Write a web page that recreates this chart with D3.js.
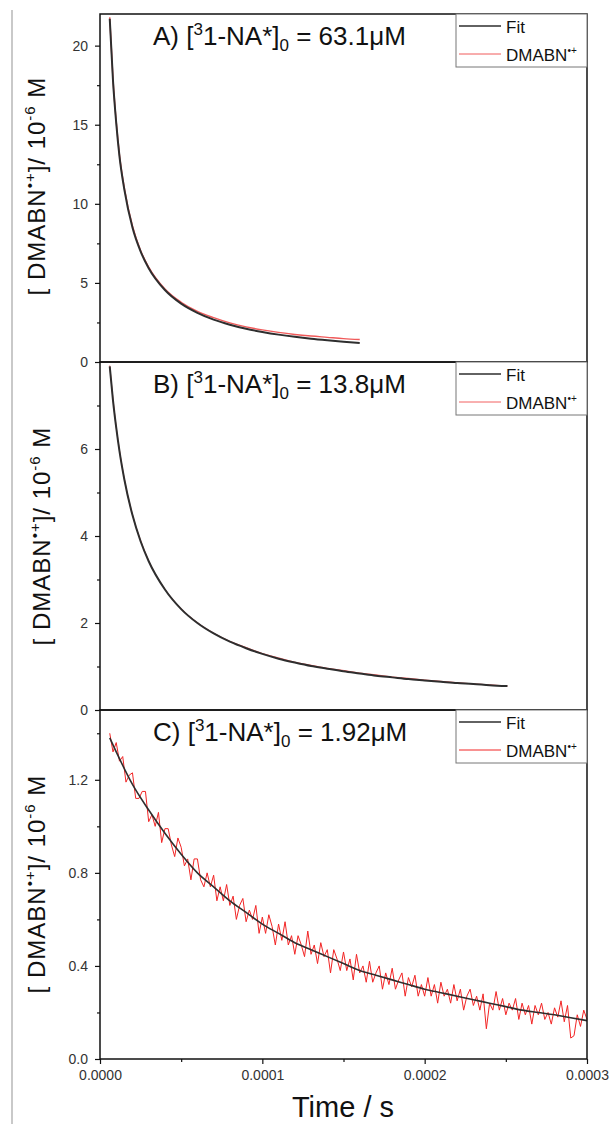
<!DOCTYPE html>
<html>
<head>
<meta charset="utf-8">
<script src="https://cdnjs.cloudflare.com/ajax/libs/d3/7.8.5/d3.min.js"></script>
<style>
body { margin: 0; background: #fff; }
svg { display: block; font-family: "Liberation Sans", Arial, sans-serif; }
</style>
</head>
<body>
<svg id="chart" width="614" height="1124"></svg>
<script>

// time ticks (s)
var timeTicks = [0, 0.0001, 0.0002, 0.0003];
var timeMinor = [0.00005, 0.00015, 0.00025];

// panel A, [31-NA*]0 = 63.1 uM  (times in microseconds)
var timeA = [6, 8, 10, 12, 15, 20, 25, 30, 40, 50, 60, 70, 80, 90, 100, 110, 120, 130, 140, 150, 160];
var fitA = [21.7, 17.8, 15.1, 13.0, 10.9, 8.5, 6.99, 5.93, 4.55, 3.69, 3.11, 2.68, 2.36, 2.10, 1.90, 1.73, 1.59, 1.47, 1.37, 1.28, 1.20];
var dataA = [21.8, 17.9, 15.2, 13.1, 11.0, 8.6, 7.05, 6.0, 4.62, 3.78, 3.2, 2.80, 2.47, 2.22, 2.03, 1.87, 1.74, 1.64, 1.56, 1.48, 1.42];

// panel B, 13.8 uM
var timeB = [6, 8, 10, 12, 15, 20, 25, 30, 40, 50, 60, 70, 80, 90, 100, 110, 120, 130, 140, 150, 160, 170, 180, 190, 200, 210, 220, 230, 240, 251];
var fitB = [7.9, 7.12, 6.49, 5.95, 5.30, 4.48, 3.88, 3.42, 2.77, 2.32, 2.00, 1.76, 1.57, 1.42, 1.29, 1.18, 1.09, 1.01, 0.95, 0.89, 0.84, 0.79, 0.75, 0.71, 0.68, 0.65, 0.62, 0.60, 0.57, 0.55];
var dataB = [7.92, 7.15, 6.50, 5.97, 5.31, 4.49, 3.90, 3.43, 2.78, 2.33, 2.01, 1.77, 1.58, 1.44, 1.30, 1.20, 1.10, 1.03, 0.96, 0.91, 0.85, 0.81, 0.76, 0.73, 0.69, 0.66, 0.63, 0.60, 0.58, 0.55];

// panel C, 1.92 uM
var timeC = [6, 10, 20, 30, 40, 50, 60, 70, 80, 90, 100, 110, 120, 130, 140, 150, 160, 170, 180, 190, 200, 210, 220, 230, 240, 250, 260, 270, 280, 290, 300];
var fitC = [1.38, 1.32, 1.18, 1.07, 0.97, 0.88, 0.80, 0.74, 0.68, 0.63, 0.58, 0.54, 0.50, 0.47, 0.44, 0.41, 0.38, 0.36, 0.34, 0.32, 0.30, 0.285, 0.27, 0.255, 0.24, 0.225, 0.21, 0.20, 0.19, 0.177, 0.165];
// measured trace, one reading every 2 us from 6 us
var dataC = [
  1.40, 1.32, 1.36, 1.28, 1.30, 1.19, 1.22, 1.23, 1.12, 1.12,
  1.15, 1.15, 1.02, 1.05, 1.00, 1.06, 0.93, 0.99, 0.99, 0.92,
  0.87, 0.95, 0.91, 0.83, 0.86, 0.77, 0.86, 0.86, 0.77, 0.74,
  0.80, 0.74, 0.79, 0.68, 0.74, 0.68, 0.75, 0.66, 0.70, 0.60,
  0.66, 0.69, 0.59, 0.64, 0.60, 0.66, 0.54, 0.61, 0.54, 0.62,
  0.57, 0.49, 0.58, 0.51, 0.59, 0.49, 0.53, 0.45, 0.53, 0.49,
  0.44, 0.55, 0.45, 0.49, 0.41, 0.50, 0.44, 0.47, 0.37, 0.47,
  0.43, 0.38, 0.46, 0.38, 0.43, 0.34, 0.45, 0.37, 0.40, 0.33,
  0.42, 0.33, 0.37, 0.40, 0.30, 0.37, 0.32, 0.39, 0.30, 0.34,
  0.37, 0.27, 0.35, 0.31, 0.36, 0.27, 0.32, 0.27, 0.35, 0.27,
  0.32, 0.24, 0.33, 0.27, 0.30, 0.24, 0.32, 0.25, 0.30, 0.21,
  0.27, 0.30, 0.23, 0.27, 0.21, 0.28, 0.13, 0.24, 0.21, 0.29,
  0.21, 0.26, 0.19, 0.24, 0.21, 0.26, 0.17, 0.24, 0.19, 0.23,
  0.15, 0.23, 0.19, 0.24, 0.17, 0.20, 0.15, 0.22, 0.18, 0.25,
  0.16, 0.23, 0.09, 0.10, 0.19, 0.14, 0.21, 0.17
];
var dataCTime = d3.range(6, 301, 2);

var yTicksA = [0, 5, 10, 15, 20], yMinorA = [2.5, 7.5, 12.5, 17.5];
var yTicksB = [0, 2, 4, 6], yMinorB = [1, 3, 5, 7];
var yTicksC = [0, 0.4, 0.8, 1.2], yMinorC = [0.2, 0.6, 1.0, 1.4];

var svg = d3.select('#chart');

// plot box
var left = 100, right = 587;
var xScale = d3.scaleLinear().domain([0, 0.0003]).range([left, right]);

var panels = [
  { letter: 'A', conc: '63.1', top: 14, bottom: 362, max: 22, ticks: yTicksA, minor: yMinorA, fmt: d3.format('d'),
    t: timeA, fit: fitA, dt: timeA, data: dataA, red: '#f05a5a', redW: 1.4, labelX: 45, labelY: 186 },
  { letter: 'B', conc: '13.8', top: 362, bottom: 710, max: 8, ticks: yTicksB, minor: yMinorB, fmt: d3.format('d'),
    t: timeB, fit: fitB, dt: timeB, data: dataB, red: '#f26060', redW: 1, labelX: 50, labelY: 536 },
  { letter: 'C', conc: '1.92', top: 710, bottom: 1059, max: 1.5, ticks: yTicksC, minor: yMinorC, fmt: d3.format('.1f'),
    t: timeC, fit: fitC, dt: dataCTime, data: dataC, red: '#f22424', redW: 1, labelX: 45, labelY: 884 }
];

// grey rule down the left side
svg.append('line')
  .attr('x1', 12).attr('x2', 12).attr('y1', 10).attr('y2', 1124)
  .style('stroke', '#c9c9c9').style('stroke-width', 2);

panels.forEach(function(p) {
  var yScale = d3.scaleLinear().domain([0, p.max]).range([p.bottom, p.top]);
  var g = svg.append('g');

  var line = d3.line()
    .x(function(d) { return xScale(d[0] * 1e-6); })
    .y(function(d) { return yScale(d[1]); });

  // measured trace then fit on top
  g.append('path')
    .datum(d3.zip(p.dt, p.data))
    .attr('d', line.curve(p.letter == 'C' ? d3.curveLinear : d3.curveMonotoneX))
    .style('fill', 'none').style('stroke', p.red).style('stroke-width', p.redW);

  g.append('path')
    .datum(d3.zip(p.t, p.fit))
    .attr('d', line.curve(d3.curveMonotoneX))
    .style('fill', 'none').style('stroke', '#2e2e2e').style('stroke-width', p.letter == 'C' ? 1.6 : 2);

  // y axis, major + minor
  var yAxis = g.append('g')
    .attr('transform', 'translate(' + left + ',0)')
    .call(d3.axisLeft(yScale).tickValues(p.ticks).tickFormat(p.fmt).tickSize(5).tickPadding(7));
  g.append('g')
    .attr('transform', 'translate(' + left + ',0)')
    .call(d3.axisLeft(yScale).tickValues(p.minor).tickFormat('').tickSize(3));

  g.selectAll('.domain').remove();
  g.selectAll('.tick line').style('stroke', '#111').style('stroke-width', 1.2);
  yAxis.selectAll('text').style('font-size', '14px').style('fill', '#333')
    .style('font-family', '"Liberation Sans", Arial, sans-serif');

  // frame
  g.append('rect')
    .attr('x', left).attr('y', p.top)
    .attr('width', right - left).attr('height', p.bottom - p.top)
    .style('fill', 'none').style('stroke', '#111').style('stroke-width', 1.5);

  // panel title
  var title = g.append('text')
    .attr('x', 153).attr('y', p.top + 31)
    .style('font-size', '26px').style('fill', '#111');
  title.append('tspan').text(p.letter + ') [');
  title.append('tspan').attr('dy', -10).style('font-size', '17px').text('3');
  title.append('tspan').attr('dy', 10).text('1-NA*]');
  title.append('tspan').attr('dy', 6).style('font-size', '17px').text('0');
  title.append('tspan').attr('dy', -6).text(' = ' + p.conc + '\u03bcM');

  // legend
  var lg = g.append('g').attr('transform', 'translate(456,' + p.top + ')');
  lg.append('rect')
    .attr('width', right - 456).attr('height', 53)
    .style('fill', '#fff').style('stroke', '#777').style('stroke-width', 1);
  lg.append('line').attr('x1', 3).attr('x2', 45).attr('y1', 12).attr('y2', 12)
    .style('stroke', '#2e2e2e').style('stroke-width', 1.6);
  lg.append('line').attr('x1', 3).attr('x2', 45).attr('y1', 40).attr('y2', 40)
    .style('stroke', p.red).style('stroke-width', 1);
  lg.append('text').attr('x', 50).attr('y', 19).style('font-size', '17px').style('fill', '#111').text('Fit');
  var lt = lg.append('text').attr('x', 50).attr('y', 47).style('font-size', '17px').style('fill', '#111');
  lt.append('tspan').text('DMABN');
  lt.append('tspan').attr('dy', -7).style('font-size', '10px').text('\u2022+');

  // y label
  var yl = g.append('text')
    .attr('transform', 'translate(' + p.labelX + ',' + p.labelY + ') rotate(-90)')
    .attr('text-anchor', 'middle')
    .style('font-size', '24px').style('letter-spacing', '1px').style('fill', '#111');
  yl.append('tspan').text('[ DMABN');
  yl.append('tspan').attr('dy', -10).style('font-size', '15px').text('\u2022+');
  yl.append('tspan').attr('dy', 10).text(']/  10');
  yl.append('tspan').attr('dy', -10).style('font-size', '15px').text('-6');
  yl.append('tspan').attr('dy', 10).text(' M');
});

// x axis on the bottom panel
var bottom = 1059;
var xg = svg.append('g').attr('transform', 'translate(0,' + bottom + ')');
xg.call(d3.axisBottom(xScale).tickValues(timeTicks).tickFormat(d3.format('.4f')).tickSize(5).tickPadding(6));
var xm = svg.append('g').attr('transform', 'translate(0,' + bottom + ')');
xm.call(d3.axisBottom(xScale).tickValues(timeMinor).tickFormat('').tickSize(3));
svg.selectAll('g .domain').remove();
xg.selectAll('.tick line').style('stroke', '#111').style('stroke-width', 1.2);
xm.selectAll('.tick line').style('stroke', '#111').style('stroke-width', 1.2);
xg.selectAll('text').style('font-size', '14px').style('fill', '#333')
  .style('font-family', '"Liberation Sans", Arial, sans-serif');

svg.append('text')
  .attr('x', 343).attr('y', 1117)
  .attr('text-anchor', 'middle')
  .style('font-size', '29px').style('fill', '#111')
  .text('Time / s');

</script>
</body>
</html>
